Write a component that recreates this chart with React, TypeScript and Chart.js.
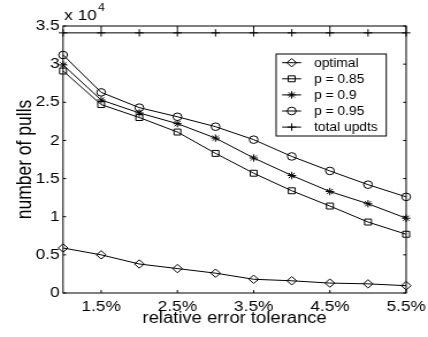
import React, { useEffect, useRef } from 'react';
import { Chart, registerables } from 'chart.js';

Chart.register(...registerables);

// relative error tolerance (%)
const tolerances = [1, 1.5, 2, 2.5, 3, 3.5, 4, 4.5, 5, 5.5];
const xTickValues = [1.5, 2.5, 3.5, 4.5, 5.5];
// y ticks in units of 10^4
const yTickValues = [0, 0.5, 1, 1.5, 2, 2.5, 3, 3.5];

const optimal = [5900, 5000, 3800, 3200, 2600, 1800, 1600, 1300, 1200, 960];
const p085 = [29100, 24700, 23000, 21100, 18300, 15700, 13400, 11400, 9300, 7700];
const p09 = [29900, 25300, 23600, 22200, 20300, 17700, 15400, 13300, 11700, 9800];
const p095 = [31200, 26300, 24300, 23100, 21800, 20100, 17900, 16000, 14200, 12600];
const totalUpdts = [34100, 34100, 34100, 34100, 34100, 34100, 34100, 34100, 34100, 34100];

const seriesLabels = ['optimal', 'p = 0.85', 'p = 0.9', 'p = 0.95', 'total updts'];
const seriesValues = [optimal, p085, p09, p095, totalUpdts];
const seriesMarkers = ['rectRot', 'rect', 'star', 'circle', 'cross'];
const seriesRadius = [4.2, 4.2, 3.7, 3.8, 3.7];

const FONT = '"Liberation Sans", Arial, Helvetica, sans-serif';
const SX = 1.15;
const W = 428;
const INTERNAL_W = Math.round(W / SX);
const H = 337;

function drawMarker(ctx: CanvasRenderingContext2D, style: string, x: number, y: number, r: number) {
  ctx.beginPath();
  switch (style) {
    case 'rectRot':
      ctx.moveTo(x, y - r);
      ctx.lineTo(x + r, y);
      ctx.lineTo(x, y + r);
      ctx.lineTo(x - r, y);
      ctx.closePath();
      break;
    case 'rect': {
      const s = r * Math.SQRT1_2;
      ctx.rect(x - s, y - s, 2 * s, 2 * s);
      break;
    }
    case 'circle':
      ctx.arc(x, y, r, 0, Math.PI * 2);
      break;
    case 'cross':
      ctx.moveTo(x - r, y); ctx.lineTo(x + r, y);
      ctx.moveTo(x, y - r); ctx.lineTo(x, y + r);
      break;
    case 'star': {
      ctx.moveTo(x - r, y); ctx.lineTo(x + r, y);
      ctx.moveTo(x, y - r); ctx.lineTo(x, y + r);
      const d = r * Math.SQRT1_2;
      ctx.moveTo(x - d, y - d); ctx.lineTo(x + d, y + d);
      ctx.moveTo(x - d, y + d); ctx.lineTo(x + d, y - d);
      break;
    }
  }
  ctx.stroke();
}

const framePlugin = {
  id: 'matlabFrame',
  afterDraw(chart: any) {
    const ctx: CanvasRenderingContext2D = chart.ctx;
    const { left, right, top, bottom } = chart.chartArea;
    const xs = chart.scales.x;
    const ys = chart.scales.y;
    ctx.save();
    ctx.strokeStyle = '#000';
    ctx.lineWidth = 1;
    ctx.strokeRect(left, top, right - left, bottom - top);
    ctx.beginPath();
    xTickValues.forEach((v) => {
      const px = xs.getPixelForValue(v);
      ctx.moveTo(px, bottom); ctx.lineTo(px, bottom - 3);
      ctx.moveTo(px, top); ctx.lineTo(px, top + 3);
    });
    yTickValues.forEach((v) => {
      const py = ys.getPixelForValue(v * 1e4);
      ctx.moveTo(left, py); ctx.lineTo(left + 2.6, py);
      ctx.moveTo(right, py); ctx.lineTo(right - 2.6, py);
    });
    ctx.stroke();

    // exponent label
    ctx.fillStyle = '#000';
    ctx.textBaseline = 'alphabetic';
    ctx.textAlign = 'left';
    ctx.font = `15px ${FONT}`;
    ctx.fillText('x 10', left + 1, 20);
    const w = ctx.measureText('x 10').width;
    ctx.font = `10.5px ${FONT}`;
    ctx.fillText('4', left + 1 + w + 1, 11);

    // legend
    const lx0 = 240, ly0 = 54, lx1 = 335.7, ly1 = 136;
    ctx.fillStyle = '#fff';
    ctx.fillRect(lx0, ly0, lx1 - lx0, ly1 - ly0);
    ctx.strokeStyle = '#000';
    ctx.strokeRect(lx0, ly0, lx1 - lx0, ly1 - ly0);
    ctx.font = `12px ${FONT}`;
    ctx.textBaseline = 'middle';
    chart.data.datasets.forEach((ds: any, i: number) => {
      const cy = 62.7 + i * 16.1;
      ctx.beginPath();
      ctx.moveTo(245.2, cy); ctx.lineTo(261.7, cy);
      ctx.stroke();
      drawMarker(ctx, ds.pointStyle, 253.5, cy, ds.pointRadius);
      ctx.fillStyle = '#000';
      ctx.fillText(ds.label, 273, cy + 0.5);
    });
    ctx.restore();
  },
};

export default function App() {
  const ref = useRef<HTMLCanvasElement>(null);
  useEffect(() => {
    if (!ref.current) return;
    const datasets = seriesValues.map((vals, i) => ({
      label: seriesLabels[i],
      data: tolerances.map((t, j) => ({ x: t, y: vals[j] })),
      borderColor: '#000',
      borderWidth: 1,
      backgroundColor: 'transparent',
      pointStyle: seriesMarkers[i],
      pointRadius: seriesRadius[i],
      pointBorderColor: '#000',
      pointBackgroundColor: 'transparent',
      pointBorderWidth: 1,
      tension: 0,
      clip: false as any,
    }));
    const chart = new Chart(ref.current, {
      type: 'line',
      data: { datasets },
      options: {
        animation: false,
        responsive: false,
        devicePixelRatio: 1,
        layout: { padding: { left: 0, right: INTERNAL_W - 353, top: 26, bottom: 0 } },
        plugins: { legend: { display: false }, tooltip: { enabled: false } },
        scales: {
          x: {
            type: 'linear',
            min: 1,
            max: 5.5,
            grid: { display: false, drawTicks: false },
            border: { display: false },
            afterBuildTicks: (s: any) => { s.ticks = xTickValues.map((v) => ({ value: v })); },
            afterFit: (s: any) => { s.height = 44; s.paddingLeft = 0; s.paddingRight = 0; },
            ticks: {
              color: '#000',
              font: { family: FONT, size: 15 },
              padding: 5,
              maxRotation: 0,
              autoSkip: false,
              callback: (v: any) => `${v}%`,
            },
            title: {
              display: true,
              text: 'relative error tolerance',
              color: '#000',
              font: { family: FONT, size: 16 },
              padding: { top: 0, bottom: 8.4 },
            },
          },
          y: {
            type: 'linear',
            min: 0,
            max: 35000,
            grid: { display: false, drawTicks: false },
            border: { display: false },
            afterBuildTicks: (s: any) => { s.ticks = yTickValues.map((v) => ({ value: v * 1e4 })); },
            afterFit: (s: any) => { s.width = 54.8; s.paddingTop = 0; s.paddingBottom = 0; },
            ticks: {
              color: '#000',
              font: { family: FONT, size: 15 },
              padding: 3,
              autoSkip: false,
              callback: (v: any) => `${Number(v) / 1e4}`,
            },
            title: {
              display: true,
              text: 'number of pulls',
              color: '#000',
              font: { family: FONT, size: 17.5 },
              padding: { top: 12.1, bottom: 0 },
            },
          },
        },
      },
      plugins: [framePlugin],
    });
    return () => chart.destroy();
  }, []);
  return (
    <div style={{ position: 'absolute', left: 0, top: 0, width: W, height: H, background: '#fff' }}>
      <canvas
        ref={ref}
        width={INTERNAL_W}
        height={H}
        style={{ width: `${W}px`, height: `${H}px`, display: 'block' }}
      />
    </div>
  );
}
